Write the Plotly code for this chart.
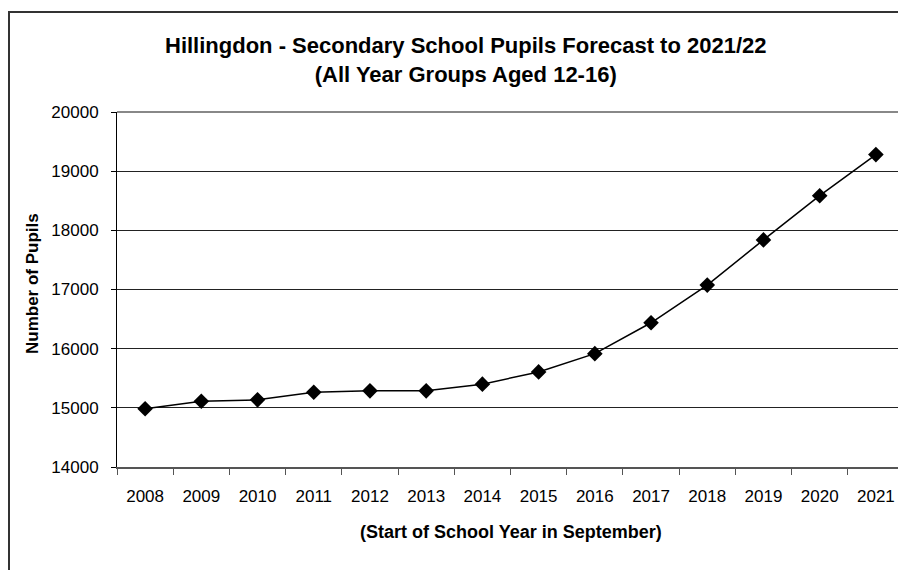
import plotly.graph_objects as go

years = ["2008", "2009", "2010", "2011", "2012", "2013", "2014",
         "2015", "2016", "2017", "2018", "2019", "2020", "2021"]
pupils = [14985, 15111, 15135, 15263, 15287, 15287, 15400,
          15607, 15916, 16438, 17074, 17838, 18585, 19280]
y_ticks = [14000, 15000, 16000, 17000, 18000, 19000, 20000]
y_tick_text = [str(v) for v in y_ticks]

title_line1 = "Hillingdon - Secondary School Pupils Forecast to 2021/22"
title_line2 = "(All Year Groups Aged 12-16)"
x_title = "(Start of School Year in September)"
y_title = "Number of Pupils"

# The page body has an 8px margin, so the figure is drawn 8px right/down.
OFF = 8
W, H = 906 - OFF, 570 - OFF
# page coordinates of the plot area: x 117..904, y 112..467
L, R = 117 - OFF, 906 - 904
T, B = 112 - OFF, 570 - 467
pw, ph = W - L - R, H - T - B

def px(x_page):
    return (x_page - OFF - L) / pw

def py(y_page):
    return (H - B - (y_page - OFF)) / ph

FONT = "Liberation Sans, Arial, sans-serif"

fig = go.Figure()
fig.add_trace(go.Scatter(
    x=years, y=pupils, mode="lines+markers",
    line=dict(color="black", width=1.5),
    marker=dict(symbol="diamond", size=12, color="black"),
    showlegend=False, cliponaxis=False,
))

fig.update_layout(
    width=W, height=H,
    margin=dict(l=L, r=R, t=T, b=B),
    paper_bgcolor="white", plot_bgcolor="white",
    font=dict(family=FONT, color="black", size=17),
    xaxis=dict(
        type="category", range=[-0.5, 13.5], tickson="boundaries",
        ticks="outside", ticklen=6, tickcolor="#555", tickwidth=1,
        showline=True, linecolor="#555", linewidth=2,
        showgrid=False, tickfont=dict(size=17, family=FONT),
        ticklabelstandoff=13, fixedrange=True,
    ),
    yaxis=dict(
        range=[14000, 20000], tickvals=y_ticks, ticktext=y_tick_text,
        ticks="outside", ticklen=5, tickcolor="black", tickwidth=1,
        showline=True, linecolor="black", linewidth=1,
        showgrid=True, gridcolor="#222", gridwidth=1,
        tickfont=dict(size=17, family=FONT), zeroline=False,
        ticklabelstandoff=9, fixedrange=True,
    ),
    shapes=[
        dict(type="line", xref="paper", yref="paper", x0=0, x1=1, y0=1, y1=1,
             line=dict(color="#888", width=2)),
        dict(type="line", xref="paper", yref="paper", x0=1, x1=1, y0=0, y1=1,
             line=dict(color="#888", width=2)),
        dict(type="rect", xref="paper", yref="paper",
             x0=px(9), x1=px(940), y0=py(12), y1=py(620),
             line=dict(color="#333", width=2)),
    ],
    annotations=[
        dict(text="<b>" + title_line1 + "</b><br><b>" + title_line2 + "</b>",
             xref="paper", yref="paper", x=px(465), y=py(60),
             xanchor="center", yanchor="middle", showarrow=False,
             font=dict(size=22, family=FONT)),
        dict(text="<b>" + x_title + "</b>", xref="paper", yref="paper",
             x=0.5, y=py(532), xanchor="center", yanchor="middle",
             showarrow=False, font=dict(size=18, family=FONT)),
        dict(text="<b>" + y_title + "</b>", xref="paper", yref="paper",
             x=px(32), y=py(284), xanchor="center", yanchor="middle",
             textangle=-90, showarrow=False, font=dict(size=17, family=FONT)),
    ],
)

fig.write_html("out.html")
